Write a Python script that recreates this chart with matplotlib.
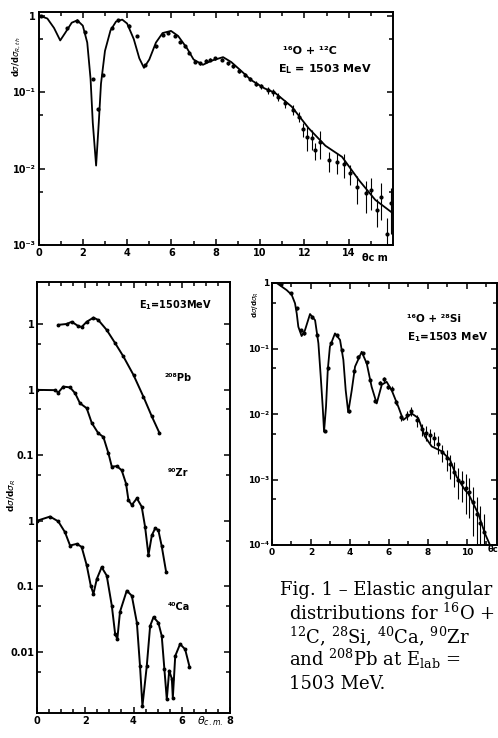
import matplotlib
matplotlib.use("Agg")
import matplotlib.pyplot as plt
from matplotlib.ticker import NullFormatter

# 16O + 12C, E = 1503 MeV : optical-model curve and measured points
c_fit_theta = [0.0, 0.1, 0.4, 0.7, 0.98, 1.2, 1.5, 1.75, 2.0, 2.2,
               2.35, 2.45, 2.6, 2.72, 2.82, 3.0, 3.25, 3.5, 3.78, 4.0,
               4.3, 4.55, 4.76, 5.0, 5.3, 5.6, 5.98, 6.3, 6.7, 7.0,
               7.42, 7.8, 8.33, 8.7, 9.16, 9.6, 10.2, 10.67, 11.43, 12.19,
               12.95, 13.7, 14.46, 15.2, 16.0]
c_fit_sig = [1.05, 1.0, 0.93, 0.7, 0.48, 0.6, 0.82, 0.88, 0.75, 0.45,
             0.15, 0.04, 0.011, 0.04, 0.13, 0.35, 0.65, 0.85, 0.9, 0.8,
             0.5, 0.28, 0.21, 0.27, 0.45, 0.6, 0.64, 0.55, 0.38, 0.27,
             0.23, 0.26, 0.29, 0.25, 0.19, 0.145, 0.113, 0.099, 0.065, 0.034,
             0.020, 0.0143, 0.0071, 0.0039, 0.0026]

c_theta = [0.1, 1.3, 1.75, 2.1, 2.46, 2.68, 2.92, 3.3, 3.6, 4.1,
           4.45, 4.8, 5.3, 5.6, 5.85, 6.15, 6.4, 6.6, 6.8, 7.05,
           7.3, 7.55, 7.75, 7.95, 8.3, 8.55, 8.8, 9.05, 9.3, 9.55,
           9.8, 10.05, 10.37, 10.6, 10.83, 11.13, 11.5, 11.74, 11.96, 12.11,
           12.34, 12.5, 12.72, 13.1, 13.48, 13.78, 14.08, 14.39, 14.76, 14.99,
           15.3, 15.45, 15.75, 15.9]
c_sig = [1.0, 0.70, 0.87, 0.62, 0.15, 0.06, 0.17, 0.70, 0.88, 0.75,
         0.55, 0.23, 0.40, 0.57, 0.60, 0.55, 0.46, 0.40, 0.33, 0.25,
         0.24, 0.26, 0.27, 0.28, 0.27, 0.24, 0.22, 0.19, 0.17, 0.15,
         0.13, 0.12, 0.107, 0.10, 0.088, 0.072, 0.059, 0.048, 0.033, 0.026,
         0.025, 0.0175, 0.0225, 0.0129, 0.0123, 0.0117, 0.0087, 0.0058, 0.0048, 0.0052,
         0.0029, 0.0043, 0.0014, 0.0035]
c_err = [0.04, 0.04, 0.04, 0.04, 0.04, 0.04, 0.04, 0.04, 0.04, 0.04,
         0.04, 0.04, 0.04, 0.04, 0.04, 0.04, 0.04, 0.04, 0.04, 0.04,
         0.04, 0.04, 0.04, 0.04, 0.04, 0.04, 0.04, 0.06, 0.06, 0.07,
         0.08, 0.08, 0.1, 0.1, 0.12, 0.12, 0.15, 0.15, 0.2, 0.35,
         0.3, 0.25, 0.4, 0.3, 0.3, 0.35, 0.3, 0.4, 0.45, 0.45,
         0.4, 0.5, 0.6, 0.6]

# heavier targets, stacked on one log axis
pb_theta = [0.88, 1.23, 1.44, 1.71, 1.85, 2.06, 2.34, 2.54, 2.89, 3.24,
            3.58, 4.0, 4.41, 4.76, 5.07]
pb_sig = [0.97, 1.0, 1.08, 0.93, 0.9, 1.08, 1.25, 1.15, 0.81, 0.51,
          0.32, 0.167, 0.078, 0.039, 0.022]

zr_theta = [0.0, 0.75, 0.88, 1.09, 1.37, 1.58, 1.78, 2.06, 2.27, 2.54,
            2.75, 2.96, 3.1, 3.31, 3.51, 3.69, 3.79, 3.93, 4.14, 4.34,
            4.48, 4.62, 4.76, 4.9, 5.03, 5.17, 5.35]
zr_sig = [0.99, 0.98, 0.90, 1.11, 1.08, 0.88, 0.62, 0.52, 0.31, 0.216,
          0.19, 0.107, 0.067, 0.068, 0.059, 0.037, 0.0207, 0.0174, 0.022, 0.0164,
          0.0081, 0.0030, 0.0060, 0.0077, 0.0072, 0.0041, 0.00168]

ca_theta = [0.0, 0.54, 0.88, 1.16, 1.37, 1.65, 1.85, 2.06, 2.23, 2.34,
            2.48, 2.68, 2.89, 3.1, 3.24, 3.33, 3.44, 3.72, 3.93, 4.14,
            4.27, 4.37, 4.55, 4.69, 4.83, 5.03, 5.17, 5.28, 5.38, 5.48,
            5.59, 5.63, 5.73, 5.93, 6.14, 6.32]
ca_sig = [1.0, 1.16, 0.98, 0.67, 0.42, 0.445, 0.40, 0.21, 0.102, 0.077,
          0.13, 0.196, 0.146, 0.051, 0.0187, 0.0158, 0.041, 0.086, 0.072, 0.028,
          0.0061, 0.0015, 0.0061, 0.025, 0.034, 0.028, 0.0176, 0.0055, 0.0019, 0.0052,
          0.0039, 0.002, 0.0087, 0.0132, 0.011, 0.006]

stack_offsets = [1.0, 0.1, 0.001]   # Pb, Zr, Ca
stack_ticks = [1e-5, 1e-4, 1e-3, 1e-2, 1e-1, 1.0]
stack_labels = ["0.01", "0.1", "1", "0.1", "1", "1"]

# 16O + 28Si
si_fit_theta = [0.24, 0.75, 1.01, 1.18, 1.27, 1.35, 1.52, 1.69, 1.95,
                2.21, 2.38, 2.5, 2.6, 2.67, 2.77, 2.86, 2.97, 3.23, 3.49,
                3.66, 3.78, 3.91, 4.09, 4.26, 4.6, 4.86, 5.11, 5.37, 5.63,
                5.88, 6.14, 6.48, 6.73, 7.16, 7.5, 7.85, 8.19, 8.7, 9.13,
                9.47, 9.9, 10.07, 10.58, 10.92, 11.18]
si_fit_sig = [1.0, 0.78, 0.66, 0.49, 0.34, 0.215, 0.155, 0.19, 0.336,
              0.27, 0.12, 0.037, 0.0129, 0.0054, 0.0129, 0.047, 0.107, 0.17, 0.135,
              0.067, 0.023, 0.0106, 0.023, 0.053, 0.089, 0.059, 0.026, 0.0145, 0.028,
              0.031, 0.023, 0.0129, 0.0081, 0.0102, 0.0087, 0.0045, 0.0032, 0.0027, 0.002,
              0.0011, 0.00069, 0.00061, 0.0003, 0.00015, 0.0001]

si_theta = [0.45, 0.95, 1.27, 1.47, 1.62, 2.05, 2.3, 2.7, 2.88, 3.05,
            3.35, 3.6, 3.95, 4.2, 4.4, 4.65, 4.85, 5.05, 5.3, 5.55,
            5.75, 5.95, 6.15, 6.35, 6.6, 6.9, 7.15, 7.45, 7.7, 7.9,
            8.1, 8.3, 8.5, 8.7, 8.95, 9.15, 9.35, 9.55, 9.75, 9.95,
            10.1, 10.3, 10.5, 10.65, 10.85]
si_sig = [0.95, 0.70, 0.41, 0.19, 0.17, 0.30, 0.16, 0.0055, 0.05, 0.12,
          0.16, 0.095, 0.011, 0.045, 0.075, 0.085, 0.062, 0.033, 0.016, 0.03,
          0.034, 0.026, 0.024, 0.015, 0.009, 0.0095, 0.011, 0.008, 0.0058, 0.0052,
          0.0048, 0.0043, 0.0035, 0.0026, 0.0021, 0.0017, 0.0013, 0.0010, 0.0009, 0.00075,
          0.00065, 0.00045, 0.0003, 0.00022, 0.00016]
si_err = [0.05, 0.05, 0.05, 0.05, 0.05, 0.05, 0.05, 0.05, 0.05, 0.05,
          0.05, 0.05, 0.05, 0.05, 0.05, 0.05, 0.05, 0.05, 0.05, 0.05,
          0.08, 0.08, 0.1, 0.1, 0.12, 0.15, 0.15, 0.2, 0.2, 0.25,
          0.25, 0.25, 0.3, 0.3, 0.35, 0.4, 0.4, 0.5, 0.5, 0.6,
          0.6, 0.7, 0.8, 0.8, 0.85]

W, H = 498, 738
plt.rcParams["font.family"] = "DejaVu Sans"
fig = plt.figure(figsize=(W / 100, H / 100), dpi=100)
B = dict(fontweight="bold")


def box(l, t, r, b):
    return [l / W, 1 - b / H, (r - l) / W, (b - t) / H]


def ftext(x, y, s, **kw):
    fig.text(x / W, 1 - y / H, s, **kw)


def frame(ax, size=7):
    for sp in ax.spines.values():
        sp.set_linewidth(1.4)
    ax.tick_params(which="both", direction="in", top=True, right=True,
                   width=1.1, labelsize=size, pad=2)
    ax.tick_params(which="major", length=4.5)
    ax.tick_params(which="minor", length=3)
    ax.yaxis.set_minor_formatter(NullFormatter())
    for lab in ax.get_xticklabels() + ax.get_yticklabels():
        lab.set_fontweight("bold")


def with_err(sig, err):
    return [s * e for s, e in zip(sig, err)]


# top panel: 16O + 12C
ax1 = fig.add_axes(box(38.5, 12, 393, 245))
ax1.set_yscale("log")
ax1.plot(c_fit_theta, c_fit_sig, color="k", lw=1.3)
ax1.errorbar(c_theta, c_sig, yerr=with_err(c_sig, c_err), fmt="o", ms=2,
             color="k", elinewidth=0.8, capsize=0)
ax1.set_xlim(0, 16)
ax1.set_ylim(1e-3, 10 ** 0.054)
ax1.set_xticks([0, 2, 4, 6, 8, 10, 12, 14])
ax1.set_xticks([1, 3, 5, 7, 9, 11, 13, 15], minor=True)
ax1.set_yticks([1e-3, 1e-2, 1e-1, 1], labels=["10⁻³", "10⁻²", "10⁻¹", "1"])
ax1.set_yticks([5e-3, 5e-2, 5e-1], minor=True)
frame(ax1)
ax1.text(0.69, 0.82, "¹⁶O + ¹²C", transform=ax1.transAxes, fontsize=8, **B)
ax1.text(0.675, 0.74, r"E$_\mathbf{L}$ = 1503 MeV", transform=ax1.transAxes, fontsize=8, **B)
ftext(17, 57, r"d$\sigma$/d$\sigma_{R,th}$", rotation=90, ha="center", va="center", fontsize=6, **B)
ftext(362, 258, "θc m", fontsize=7, va="center", **B)

# lower left: 208Pb, 90Zr, 40Ca stacked
ax2 = fig.add_axes(box(37, 282, 230, 713))
ax2.set_yscale("log")
for th, sg, off in zip([pb_theta, zr_theta, ca_theta], [pb_sig, zr_sig, ca_sig], stack_offsets):
    vals = [v * off for v in sg]
    ax2.plot(th, vals, color="k", lw=1.4)
    ax2.plot(th, vals, "o", color="k", ms=1.8)
ax2.set_xlim(0, 8)
ax2.set_ylim(10 ** -5.93, 10 ** 0.64)
ax2.set_xticks([0, 2, 4, 6, 8])
ax2.set_xticks([0.5, 1, 1.5, 2.5, 3, 3.5, 4.5, 5, 5.5, 6.5, 7, 7.5], minor=True)
ax2.set_yticks(stack_ticks, labels=stack_labels)
ax2.set_yticks([t * 0.5 for t in stack_ticks], minor=True)
frame(ax2)
ax2.text(0.53, 0.94, r"E$_\mathbf{1}$=1503MeV", transform=ax2.transAxes, fontsize=7, **B)
ax2.text(0.66, 0.77, "²⁰⁸Pb", transform=ax2.transAxes, fontsize=7, **B)
ax2.text(0.68, 0.55, "⁹⁰Zr", transform=ax2.transAxes, fontsize=7, **B)
ax2.text(0.68, 0.24, "⁴⁰Ca", transform=ax2.transAxes, fontsize=7, **B)
ftext(12, 495, r"d$\sigma$/d$\sigma_R$", rotation=90, ha="center", va="center", fontsize=6.5, **B)
ftext(197, 728, r"$\theta_{c.m.}$", fontsize=8, va="bottom")

# lower right: 16O + 28Si
ax3 = fig.add_axes(box(272, 283, 497, 545))
ax3.set_yscale("log")
ax3.plot(si_fit_theta, si_fit_sig, color="k", lw=1.3)
ax3.errorbar(si_theta, si_sig, yerr=with_err(si_sig, si_err), fmt="o", ms=2,
             color="k", elinewidth=0.8, capsize=0)
ax3.set_xlim(0, 11.54)
ax3.set_ylim(1e-4, 1)
ax3.set_xticks([0, 2, 4, 6, 8, 10])
ax3.set_xticks([1, 3, 5, 7, 9, 11], minor=True)
ax3.set_yticks([1e-4, 1e-3, 1e-2, 1e-1, 1], labels=["10⁻⁴", "10⁻³", "10⁻²", "10⁻¹", "1"])
ax3.set_yticks([5e-4, 5e-3, 5e-2, 5e-1], minor=True)
frame(ax3, size=6.5)
ax3.text(0.60, 0.85, "¹⁶O + ²⁸Si", transform=ax3.transAxes, fontsize=7.5, **B)
ax3.text(0.60, 0.78, r"E$_\mathbf{1}$=1503 MeV", transform=ax3.transAxes, fontsize=7.5, **B)
ftext(256, 305, r"d$\sigma$/d$\sigma_R$", rotation=90, ha="center", va="center", fontsize=5, **B)
ftext(488, 549, "θc", fontsize=6, va="center", **B)

# caption
cap = dict(family="DejaVu Serif", fontsize=13.0,
           math_fontfamily="dejavuserif", va="baseline")
ftext(280, 595, "Fig. 1 – Elastic angular", **cap)
ftext(289, 620, r"distributions for $^{16}$O +", **cap)
ftext(289, 643, r"$^{12}$C, $^{28}$Si, $^{40}$Ca, $^{90}$Zr", **cap)
ftext(289, 666, r"and $^{208}$Pb at E$_{\rm lab}$ =", **cap)
ftext(289, 689, "1503 MeV.", **cap)

fig.savefig("out.png", dpi=100)
